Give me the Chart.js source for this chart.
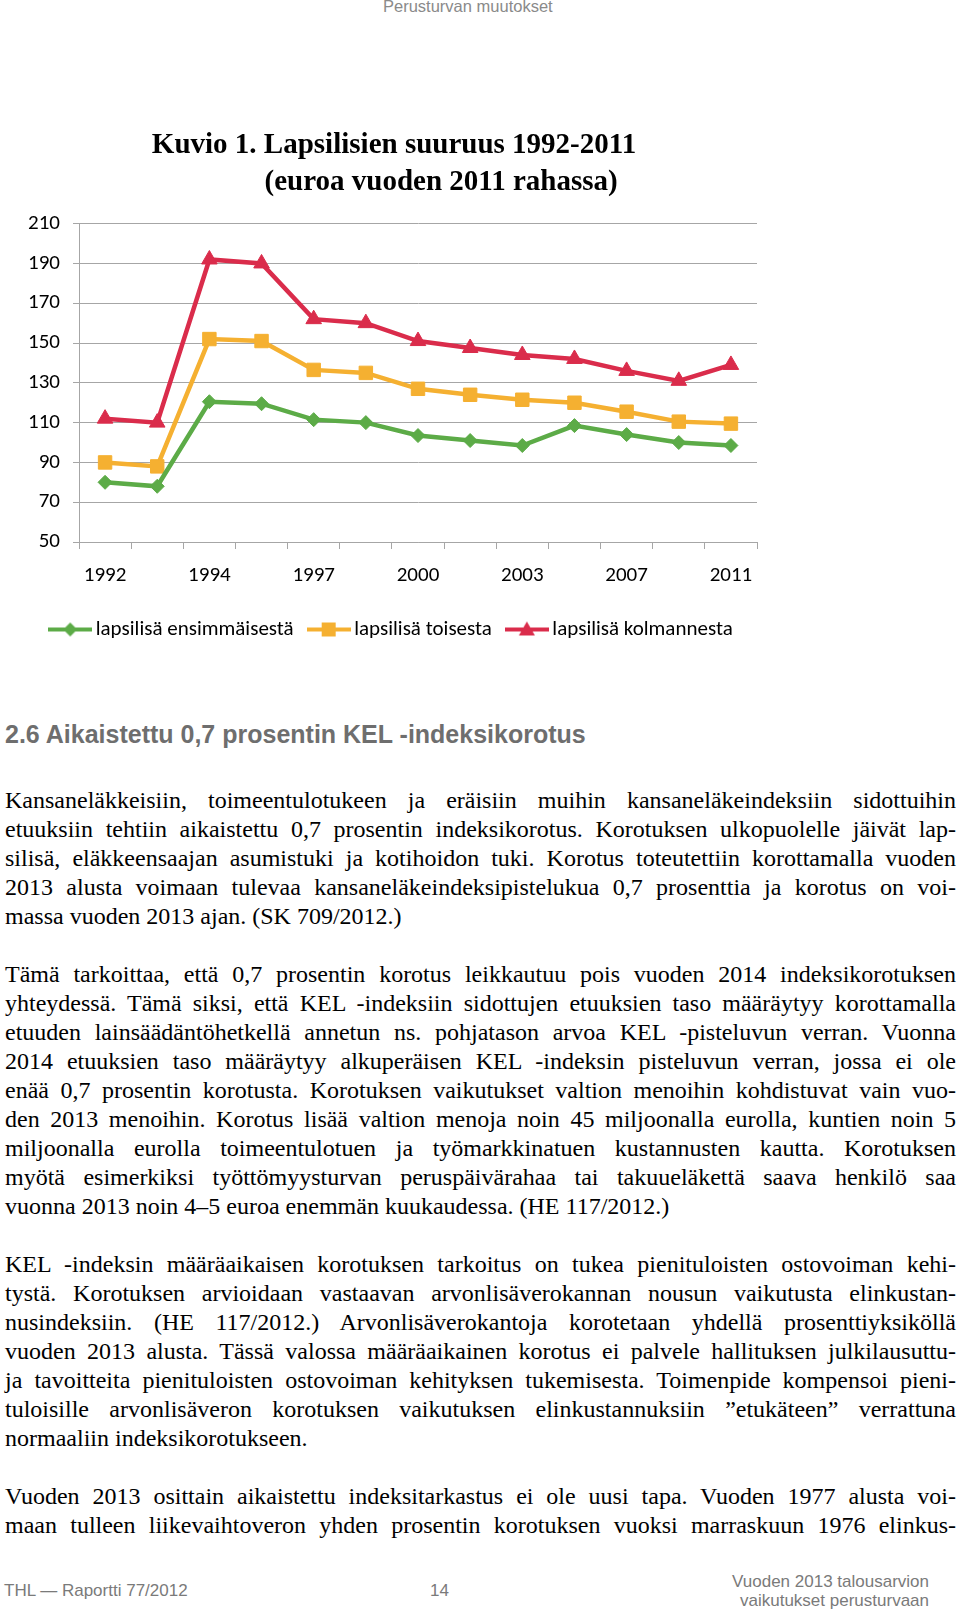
<!DOCTYPE html>
<html>
<head>
<meta charset="utf-8">
<script src="https://cdn.jsdelivr.net/npm/chart.js@4.4.1/dist/chart.umd.min.js"></script>
<style>
  html, body { margin: 0; padding: 0; background: #fff; }
  body { width: 960px; height: 1613px; position: relative; overflow: hidden; }
  #wrap { position: absolute; left: 0; top: 120px; width: 788px; height: 530px; }
  .hdr { position: absolute; top: -3px; left: 383px; font: 16.5px "Liberation Sans Narrow", "Liberation Sans", Arial, sans-serif; color: #8a8a8a; }
  h2 { position: absolute; left: 5px; top: 720px; margin: 0; font: bold 25px "Liberation Sans", Arial, sans-serif; color: #6e6e6e; line-height: 29px; }
  #body { position: absolute; left: 5px; top: 786px; width: 951px; font: 24px "Liberation Serif", "Times New Roman", serif; color: #000; }
  #body div { height: 29px; line-height: 29px; text-align: justify; text-align-last: justify; }
  #body div.last { text-align-last: left; }
  #body div.gap { height: 29px; }
  .foot { position: absolute; font: 17px "Liberation Sans Narrow", "Liberation Sans", Arial, sans-serif; color: #7a7a7a; }
</style>
</head>
<body>
<div class="hdr">Perusturvan muutokset</div>
<div id="wrap"><canvas id="c"></canvas></div>

<h2>2.6 Aikaistettu 0,7 prosentin KEL -indeksikorotus</h2>
<div id="body">
  <div>Kansaneläkkeisiin, toimeentulotukeen ja eräisiin muihin kansaneläkeindeksiin sidottuihin</div>
  <div>etuuksiin tehtiin aikaistettu 0,7 prosentin indeksikorotus. Korotuksen ulkopuolelle jäivät lap-</div>
  <div>silisä, eläkkeensaajan asumistuki ja kotihoidon tuki. Korotus toteutettiin korottamalla vuoden</div>
  <div>2013 alusta voimaan tulevaa kansaneläkeindeksipistelukua 0,7 prosenttia ja korotus on voi-</div>
  <div class="last">massa vuoden 2013 ajan. (SK 709/2012.)</div>
  <div class="gap"></div>
  <div>Tämä tarkoittaa, että 0,7 prosentin korotus leikkautuu pois vuoden 2014 indeksikorotuksen</div>
  <div>yhteydessä. Tämä siksi, että KEL -indeksiin sidottujen etuuksien taso määräytyy korottamalla</div>
  <div>etuuden lainsäädäntöhetkellä annetun ns. pohjatason arvoa KEL -pisteluvun verran. Vuonna</div>
  <div>2014 etuuksien taso määräytyy alkuperäisen KEL -indeksin pisteluvun verran, jossa ei ole</div>
  <div>enää 0,7 prosentin korotusta. Korotuksen vaikutukset valtion menoihin kohdistuvat vain vuo-</div>
  <div>den 2013 menoihin. Korotus lisää valtion menoja noin 45 miljoonalla eurolla, kuntien noin 5</div>
  <div>miljoonalla eurolla toimeentulotuen ja työmarkkinatuen kustannusten kautta. Korotuksen</div>
  <div>myötä esimerkiksi työttömyysturvan peruspäivärahaa tai takuueläkettä saava henkilö saa</div>
  <div class="last">vuonna 2013 noin 4–5 euroa enemmän kuukaudessa. (HE 117/2012.)</div>
  <div class="gap"></div>
  <div>KEL -indeksin määräaikaisen korotuksen tarkoitus on tukea pienituloisten ostovoiman kehi-</div>
  <div>tystä. Korotuksen arvioidaan vastaavan arvonlisäverokannan nousun vaikutusta elinkustan-</div>
  <div>nusindeksiin. (HE 117/2012.) Arvonlisäverokantoja korotetaan yhdellä prosenttiyksiköllä</div>
  <div>vuoden 2013 alusta. Tässä valossa määräaikainen korotus ei palvele hallituksen julkilausuttu-</div>
  <div>ja tavoitteita pienituloisten ostovoiman kehityksen tukemisesta. Toimenpide kompensoi pieni-</div>
  <div>tuloisille arvonlisäveron korotuksen vaikutuksen elinkustannuksiin ”etukäteen” verrattuna</div>
  <div class="last">normaaliin indeksikorotukseen.</div>
  <div class="gap"></div>
  <div>Vuoden 2013 osittain aikaistettu indeksitarkastus ei ole uusi tapa. Vuoden 1977 alusta voi-</div>
  <div>maan tulleen liikevaihtoveron yhden prosentin korotuksen vuoksi marraskuun 1976 elinkus-</div>
</div>

<div class="foot" style="left:4px; top:1581px;">THL — Raportti 77/2012</div>
<div class="foot" style="left:430px; top:1581px;">14</div>
<div class="foot" style="right:31px; top:1572px; text-align:right; line-height:19px;">Vuoden 2013 talousarvion<br>vaikutukset perusturvaan</div>

<script>
/* ---------- data ---------- */
const years   = ["1992","1993","1994","1995","1997","1998","2000","2001","2003","2005","2007","2009","2011"];
const first   = [80, 78, 120.5, 119.5, 111.5, 110, 103.5, 101, 98.5, 108.5, 104, 100, 98.5];
const second  = [90, 88, 152, 151, 136.5, 135, 127, 124, 121.5, 120, 115.5, 110.5, 109.5];
const third   = [112, 110, 192, 190, 162, 160, 151, 147.5, 144, 142, 136, 131, 139];
const yTicks  = [50, 70, 90, 110, 130, 150, 170, 190, 210];
// second line sits right of centre in the original, hence the leading spaces
const titleLines = ["Kuvio 1. Lapsilisien suuruus 1992-2011", "             (euroa vuoden 2011 rahassa)"];
const seriesNames = ["lapsilisä ensimmäisestä", "lapsilisä toisesta", "lapsilisä kolmannesta"];

const GREEN = "#5cab47", ORANGE = "#f5b031", RED = "#da2c4b";
const GRID = "#a6a6a6";
const FONT = "Carlito, Lato, sans-serif";

/* legend symbol: short line with the marker in the middle */
function legendSymbol(color, shape){
  const cv = document.createElement("canvas");
  cv.width = 44; cv.height = 18;
  const g = cv.getContext("2d");
  g.strokeStyle = color; g.fillStyle = color; g.lineWidth = 4;
  g.beginPath(); g.moveTo(0, 9); g.lineTo(44, 9); g.stroke();
  g.beginPath();
  if (shape === "diamond"){ g.moveTo(22,2); g.lineTo(29,9); g.lineTo(22,16); g.lineTo(15,9); }
  else if (shape === "square"){ g.rect(15,2,14,14); }
  else { g.moveTo(22,1); g.lineTo(30,15); g.lineTo(14,15); }
  g.closePath(); g.fill();
  return cv;
}
const symbols = [legendSymbol(GREEN,"diamond"), legendSymbol(ORANGE,"square"), legendSymbol(RED,"triangle")];

new Chart(document.getElementById("c"), {
  type: "line",
  data: {
    labels: years,
    datasets: [
      { label: seriesNames[0], data: first, borderColor: GREEN, backgroundColor: GREEN,
        borderWidth: 4.5, pointStyle: "rectRot", pointRadius: 7, pointBorderWidth: 1 },
      { label: seriesNames[1], data: second, borderColor: ORANGE, backgroundColor: ORANGE,
        borderWidth: 4.5, pointStyle: "rect", pointRadius: 9.5, pointBorderWidth: 1 },
      { label: seriesNames[2], data: third, borderColor: RED, backgroundColor: RED,
        borderWidth: 4.5, pointStyle: "triangle", pointRadius: 9, pointBorderWidth: 1 }
    ]
  },
  options: {
    responsive: true,
    maintainAspectRatio: false,
    animation: false,
    layout: { padding: 0 },
    plugins: {
      tooltip: { enabled: false },
      title: {
        display: true,
        text: titleLines,
        color: "#000",
        font: { family: "'Liberation Serif', 'Times New Roman', serif", size: 29, weight: "bold", lineHeight: 1.27 },
        padding: { top: 7, bottom: 23 }
      },
      legend: {
        position: "bottom",
        labels: {
          usePointStyle: true,
          pointStyleWidth: 30,
          padding: 20,
          color: "#000",
          font: { family: FONT, size: 21 },
          generateLabels(chart){
            const items = Chart.defaults.plugins.legend.labels.generateLabels(chart);
            items.forEach((it, i) => { it.pointStyle = symbols[i]; });
            return items;
          }
        }
      }
    },
    scales: {
      x: {
        offset: true,
        grid: { drawOnChartArea: false, drawTicks: true, tickLength: 7, color: GRID, offset: true },
        border: { color: GRID, width: 1 },
        ticks: {
          autoSkip: false, maxRotation: 0, padding: 14, color: "#000",
          font: { family: FONT, size: 21 },
          callback(v, i){ return i % 2 === 0 ? this.getLabelForValue(v) : ""; }
        },
        afterFit(s){ s.height = 57; }
      },
      y: {
        min: 50, max: 210,
        afterBuildTicks(s){ s.ticks = yTicks.map(v => ({ value: v })); },
        grid: { color: GRID, tickLength: 6, lineWidth: 1 },
        border: { color: GRID, width: 1 },
        ticks: { padding: 13, color: "#000", font: { family: FONT, size: 21 } },
        afterFit(s){ s.width = 79; }
      },
      yR: {
        position: "right", type: "linear", display: true,
        grid: { display: false }, border: { display: false }, ticks: { display: false },
        afterFit(s){ s.width = 31; }
      }
    }
  }
});
</script>
</body>
</html>
